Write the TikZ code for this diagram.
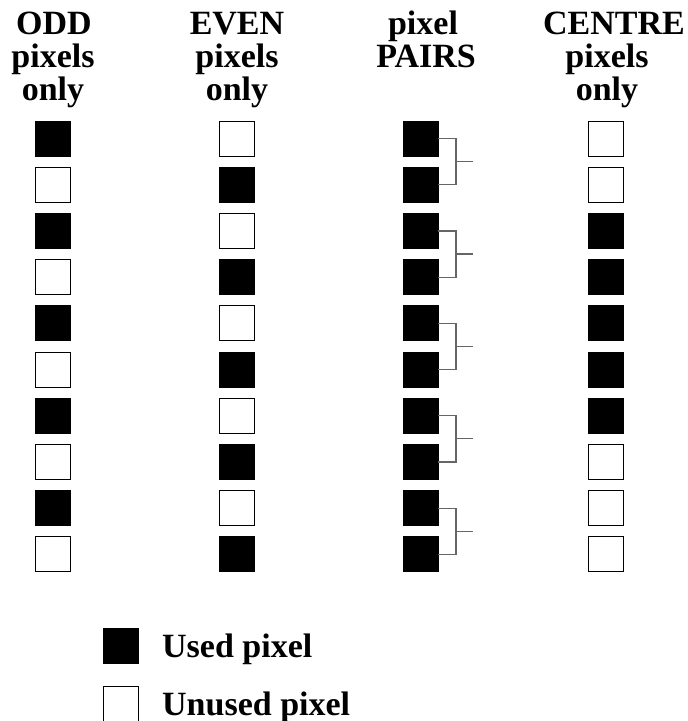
\documentclass[tikz,border=0pt]{standalone}
\usepackage{fontspec}
\setmainfont{Liberation Serif}
\usetikzlibrary{calc}

\tikzset{
  px/.style={draw=black, line width=1pt, minimum size=35pt, inner sep=0pt, outer sep=0pt},
  used/.style={px, fill=black},
  unused/.style={px, fill=white},
  head/.style={font=\fontsize{34}{34}\selectfont\bfseries, inner sep=0pt, anchor=base},
  legtext/.style={font=\fontsize{34}{34}\selectfont\bfseries, inner sep=0pt, anchor=base west},
  bracket/.style={draw=black!60, line width=1.2pt}
}

\begin{document}
\begin{tikzpicture}[x=1pt, y=-1pt]
  \useasboundingbox (0,0) rectangle (688,721);

  % column headings
  \node[head] (h1a) at (54,34) {ODD};
  \node[head] (h1b) at (53,67) {pixels};
  \node[head] (h1c) at (53,100) {only};

  \node[head] (h2a) at (237,34) {EVEN};
  \node[head] (h2b) at (237,67) {pixels};
  \node[head] (h2c) at (237,100) {only};

  \node[head] (h3a) at (423,34) {pixel};
  \node[head] (h3b) at (426,67) {PAIRS};

  \node[head] (h4a) at (614,34) {CENTRE};
  \node[head] (h4b) at (607,67) {pixels};
  \node[head] (h4c) at (607,100) {only};

  % pixel columns: row centres start at 138.5, pitch 46.2
  \foreach \i in {1,...,10} {
    \pgfmathsetmacro{\yy}{138.5+46.2*(\i-1)}
    % odd pixels only
    \ifodd\i
      \node[used] (o\i) at (52.5,\yy) {};
      \node[unused] (e\i) at (236.5,\yy) {};
    \else
      \node[unused] (o\i) at (52.5,\yy) {};
      \node[used] (e\i) at (236.5,\yy) {};
    \fi
    % pixel pairs
    \node[used] (p\i) at (421,\yy) {};
  }

  % centre pixels only: rows 3 to 7 used
  \foreach \i in {1,...,10} {
    \pgfmathsetmacro{\yy}{138.5+46.2*(\i-1)}
    \pgfmathtruncatemacro{\inside}{(\i>2)&&(\i<8)}
    \ifnum\inside=1
      \node[used] (c\i) at (606,\yy) {};
    \else
      \node[unused] (c\i) at (606,\yy) {};
    \fi
  }

  % brackets joining each pair
  \foreach \a/\b/\k in {1/2/1, 3/4/2, 5/6/3, 7/8/4, 9/10/5} {
    \draw[bracket] ($(p\a.east)+(-0.5,0)$) -- ++(18,0) |- ($(p\b.east)+(-0.5,0)$);
    \coordinate (m\k) at ($(p\a.east)!0.5!(p\b.east)+(17.5,0)$);
    \draw[bracket] (m\k) -- ++(17,0);
  }

  % legend
  \node[used] (lu) at (121,645.5) {};
  \node[unused] (ln) at (121,704) {};
  \node[legtext] (lut) at (162,657) {Used pixel};
  \node[legtext] (lnt) at (162,715) {Unused pixel};
\end{tikzpicture}
\end{document}
